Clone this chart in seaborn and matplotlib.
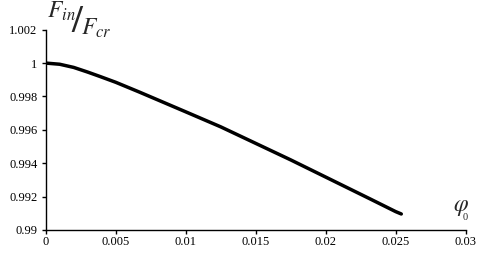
import matplotlib
matplotlib.use("Agg")
import matplotlib.pyplot as plt
import seaborn as sns
import pandas as pd

phi0 = [0.0, 0.001, 0.002, 0.003, 0.0039, 0.005, 0.0067, 0.010, 0.0125, 0.015,
        0.0175, 0.020, 0.0232, 0.025, 0.0254]
ratio = [1.0, 0.99993, 0.99974, 0.99946, 0.99919, 0.99885, 0.99826, 0.99708, 0.99618,
         0.99519, 0.99420, 0.99317, 0.99185, 0.99110, 0.99096]
xticks = [0, 0.005, 0.01, 0.015, 0.02, 0.025, 0.03]
xtick_labels = ["0", "0.005", "0.01", "0.015", "0.02", "0.025", "0.03"]
yticks = [0.99, 0.992, 0.994, 0.996, 0.998, 1.0, 1.002]
ytick_labels = ["0.99", "0.992", "0.994", "0.996", "0.998", "1", "1.002"]

sns.set_style("ticks")
plt.rcParams["font.family"] = ["Liberation Serif", "DejaVu Serif"]
plt.rcParams["mathtext.fontset"] = "stix"

df = pd.DataFrame({"phi0": phi0, "ratio": ratio})

fig = plt.figure(figsize=(4.8, 2.56), dpi=100)
ax = fig.add_axes([0.0952, 0.1016, 0.875, 0.7824])
sns.lineplot(data=df, x="phi0", y="ratio", ax=ax, color="black", linewidth=2.5)

ax.set_xlim(0, 0.03)
ax.set_ylim(0.99, 1.002)
ax.set_xticks(xticks)
ax.set_xticklabels(xtick_labels)
ax.set_yticks(yticks)
ax.set_yticklabels(ytick_labels)
ax.set_xlabel("")
ax.set_ylabel("")
sns.despine(ax=ax)
for s in ["left", "bottom"]:
    ax.spines[s].set_linewidth(1.0)
    ax.spines[s].set_color("black")
ax.tick_params(axis="both", direction="out", length=3, width=1, colors="black",
               labelsize=9)
ax.tick_params(axis="x", pad=1.5)
ax.tick_params(axis="y", pad=3)

# y label: F_in / F_cr
fig.text(0.098, 0.932, r"$F_{in}$", fontsize=17, va="baseline", ha="left")
fig.text(0.160, 0.912, "/", fontsize=28, fontweight="bold", va="center", ha="center")
fig.text(0.168, 0.863, r"$F_{cr}$", fontsize=17, va="baseline", ha="left")
# x label: phi_0
fig.text(0.944, 0.232, r"$\varphi$", fontsize=17, va="top", ha="left")
fig.text(0.964, 0.168, "0", fontsize=7.5, va="top", ha="left")

fig.savefig("out.png", dpi=100)
